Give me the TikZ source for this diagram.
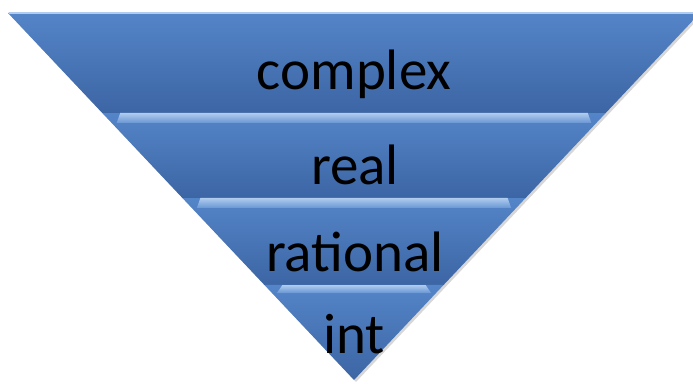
\documentclass[tikz,border=0pt]{standalone}
\usepackage{fontspec}
\setmainfont{Carlito}
\usepackage{tikz}
\usetikzlibrary{calc}

\definecolor{bandTop}{RGB}{84,133,200}
\definecolor{bandBot}{RGB}{60,101,164}
\definecolor{bevelTop}{RGB}{176,204,238}
\definecolor{bevelBot}{RGB}{104,150,212}

\begin{document}
\begin{tikzpicture}[x=1pt, y=1pt,
    layer/.style={top color=bandTop, bottom color=bandBot},
    bevel/.style={top color=bevelTop, bottom color=bevelBot},
    lbl/.style={font=\fontsize{57}{60}\selectfont, text=black, inner sep=0pt, anchor=base}]
    \useasboundingbox (0,0) rectangle (693,383);
    \clip (0,0) rectangle (693,383);
    \coordinate (TL) at (8,370);
    \coordinate (TR) at (700,370);
    \coordinate (A) at (354,3);
    % schaduw
    \fill[black!45, opacity=.35] ($(TL)+(2,-2)$) -- ($(TR)+(2,-2)$) -- ($(A)+(2,-2)$) -- cycle;
    % lagen, van boven naar beneden
    \foreach \ta/\tb in {0/0.2725, 0.2725/0.5041, 0.5041/0.7411, 0.7411/1} {
      \shade[layer] ($(TL)!\ta!(A)$) -- ($(TR)!\ta!(A)$) -- ($(TR)!\tb!(A)$) -- ($(TL)!\tb!(A)$) -- cycle;
    }
    \draw[bevelTop, line width=1.2pt] ($(TL)+(1,0)$) -- ($(TR)+(-1,0)$);
    % randen tussen de lagen
    \foreach \ya/\yb in {113/123, 198/208, 285/293} {
      \pgfmathsetmacro\hwa{(380-\ya)*0.943-18}
      \pgfmathsetmacro\hwb{(380-\yb)*0.943-5}
      \shade[bevel] (354-\hwa, 383-\ya) -- (354+\hwa, 383-\ya) -- (354+\hwb, 383-\yb) -- (354-\hwb, 383-\yb) -- cycle;
    }
    % teksten
    \node[lbl] (complex) at (354,293) {complex};
    \node[lbl] (real) at (355,198) {real};
    \node[lbl] (rational) at (355,111) {rational};
    \node[lbl] (int) at (354,30) {int};
\end{tikzpicture}
\end{document}
